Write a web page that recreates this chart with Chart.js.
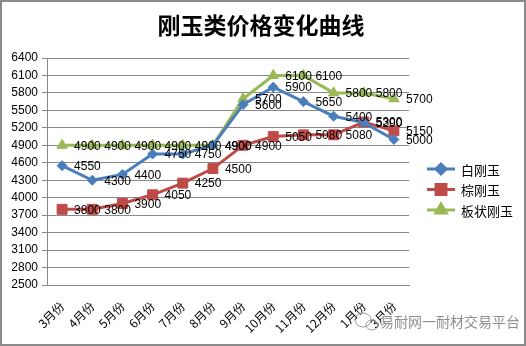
<!DOCTYPE html>
<html>
<head>
<meta charset="utf-8">
<script src="https://cdn.jsdelivr.net/npm/chart.js@4/dist/chart.umd.min.js"></script>
<style>
  html, body { margin: 0; padding: 0; background: #fff; }
</style>
</head>
<body>
<canvas id="priceChart" width="526" height="346"></canvas>
<script>
const months = ['3月份', '4月份', '5月份', '6月份', '7月份', '8月份', '9月份', '10月份', '11月份', '12月份', '1月份', '3月份'];
const whiteCorundum = [4550, 4300, 4400, 4750, 4750, 4900, 5600, 5900, 5650, 5400, 5290, 5000];
const brownCorundum = [3800, 3800, 3900, 4050, 4250, 4500, 4900, 5050, 5080, 5080, 5300, 5150];
const tabularCorundum = [4900, 4900, 4900, 4900, 4900, 4900, 5700, 6100, 6100, 5800, 5800, 5700];
const seriesNames = ['白刚玉', '棕刚玉', '板状刚玉'];
const chartTitle = '刚玉类价格变化曲线';
const yMin = 2500;
const yMax = 6400;
const yStep = 300;

const gridGray = '#888888';
const cjk = '"Noto Sans CJK SC", "Noto Sans", sans-serif';
const latin = '"Liberation Sans", Arial, sans-serif';

// value labels to the right of every point, Excel style
const pointLabels = {
  id: 'pointLabels',
  afterDatasetsDraw(chart) {
    const ctx = chart.ctx;
    ctx.save();
    ctx.font = '12px ' + latin;
    ctx.fillStyle = '#000';
    ctx.textAlign = 'left';
    ctx.textBaseline = 'middle';
    chart.data.datasets.forEach((ds, i) => {
      chart.getDatasetMeta(i).data.forEach((pt, j) => {
        ctx.fillText(String(ds.data[j]), pt.x + 12, pt.y + 1);
      });
    });
    ctx.restore();
  }
};

// title across the full width, legend with line + marker, watermark, frame
const decorations = {
  id: 'decorations',
  afterDraw(chart) {
    const ctx = chart.ctx;
    const area = chart.chartArea;
    ctx.save();

    ctx.fillStyle = '#000';
    ctx.font = 'bold 23px ' + cjk;
    ctx.textAlign = 'center';
    ctx.textBaseline = 'middle';
    ctx.fillText(chartTitle, 261, 25);

    const lx = area.right + 18;
    let ly = 169;
    chart.data.datasets.forEach(ds => {
      ctx.strokeStyle = ds.borderColor;
      ctx.lineWidth = 3;
      ctx.beginPath();
      ctx.moveTo(lx, ly);
      ctx.lineTo(lx + 28, ly);
      ctx.stroke();
      ctx.fillStyle = ds.pointBackgroundColor;
      ctx.strokeStyle = ds.pointBackgroundColor;
      Chart.helpers.drawPoint(ctx, {
        pointStyle: ds.pointStyle,
        radius: ds.pointRadius,
        rotation: 0,
        borderWidth: 1
      }, lx + 14, ly);
      ctx.fillStyle = '#000';
      ctx.font = '13px ' + cjk;
      ctx.textAlign = 'left';
      ctx.textBaseline = 'middle';
      ctx.fillText(ds.label, lx + 34, ly + 1);
      ly += 20.5;
    });

    // watermark
    ctx.strokeStyle = '#9a9a9a';
    ctx.lineWidth = 1;
    ctx.beginPath();
    ctx.ellipse(363, 320, 8, 7, 0, 0, Math.PI * 2);
    ctx.stroke();
    ctx.beginPath();
    ctx.ellipse(372, 325, 6, 5, 0, 0, Math.PI * 2);
    ctx.stroke();
    ctx.font = '14px ' + cjk;
    ctx.textAlign = 'left';
    ctx.textBaseline = 'middle';
    ctx.lineWidth = 2;
    ctx.strokeStyle = 'rgba(255,255,255,0.9)';
    ctx.strokeText('易耐网一耐材交易平台', 380, 322);
    ctx.fillStyle = '#8e8e8e';
    ctx.fillText('易耐网一耐材交易平台', 380, 322);

    // outer frame
    ctx.strokeStyle = '#8a8a8a';
    ctx.lineWidth = 2;
    ctx.strokeRect(1, 1, 524, 344);
    ctx.restore();
  }
};

function series(label, data, color, style, radius) {
  return {
    label: label,
    data: data,
    borderColor: color,
    backgroundColor: color,
    borderWidth: 3,
    tension: 0,
    pointStyle: style,
    pointRadius: radius,
    pointHoverRadius: radius,
    pointBackgroundColor: color,
    pointBorderColor: color,
    pointBorderWidth: 1
  };
}

new Chart(document.getElementById('priceChart'), {
  type: 'line',
  data: {
    labels: months,
    datasets: [
      series(seriesNames[0], whiteCorundum, '#4A7EBB', 'rectRot', 5),
      series(seriesNames[1], brownCorundum, '#BE4B48', 'rect', 7),
      series(seriesNames[2], tabularCorundum, '#98B954', 'triangle', 6)
    ]
  },
  options: {
    responsive: false,
    animation: false,
    devicePixelRatio: 1,
    layout: { padding: { left: 0, right: 117, top: 58, bottom: 0 } },
    plugins: {
      legend: { display: false },
      tooltip: { enabled: false },
      title: { display: false }
    },
    scales: {
      x: {
        offset: true,
        grid: { display: false },
        border: { display: true, color: gridGray, width: 1 },
        ticks: {
          color: '#000',
          font: { family: cjk, size: 12 },
          minRotation: 45,
          maxRotation: 45,
          padding: 6,
          autoSkip: false
        },
        afterFit(scale) { scale.height = 61; }
      },
      y: {
        min: yMin,
        max: yMax,
        grid: { color: gridGray, lineWidth: 1, tickLength: 5, drawTicks: true },
        border: { display: true, color: gridGray, width: 1 },
        ticks: {
          stepSize: yStep,
          color: '#000',
          font: { family: latin, size: 12 },
          padding: 4,
          callback: v => String(v)
        },
        afterFit(scale) { scale.width = 47; }
      }
    }
  },
  plugins: [pointLabels, decorations]
});
</script>
</body>
</html>
